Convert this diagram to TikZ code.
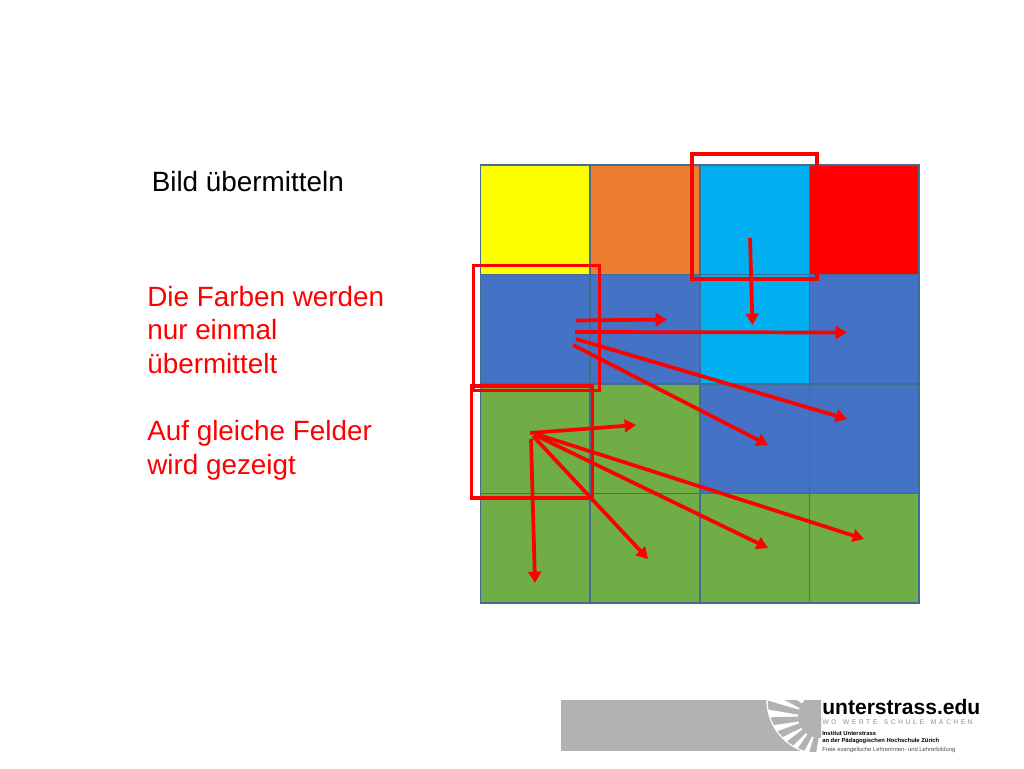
\documentclass[tikz,border=0pt]{standalone}
\usepackage{fontspec}
\setmainfont{Liberation Sans}
\usetikzlibrary{arrows.meta}
\definecolor{cellyellow}{RGB}{255,255,0}
\definecolor{cellorange}{RGB}{237,125,49}
\definecolor{cellcyan}{RGB}{0,176,240}
\definecolor{cellred}{RGB}{255,0,0}
\definecolor{cellblue}{RGB}{68,114,196}
\definecolor{cellgreen}{RGB}{112,173,71}
\definecolor{celledge}{RGB}{66,108,145}
\definecolor{logogrey}{RGB}{178,178,178}
\tikzset{
  cell/.style = {minimum size=82.125pt, inner sep=0pt, outer sep=0pt},
  framebox/.style = {draw=red, line width=2.6pt, inner sep=0pt, outer sep=0pt},
  sendarrow/.style = {draw=red, line width=2.8pt, -{Triangle[length=8.5pt, width=9.5pt]}},
  caption/.style = {anchor=base west, inner sep=0pt, font=\fontsize{20.9pt}{25pt}\selectfont},
  logotext/.style = {anchor=base west, inner sep=0pt, font=\bfseries\fontsize{4.4pt}{5pt}\selectfont},
}
\begin{document}
\begin{tikzpicture}[x=0.75pt, y=-0.75pt]
\useasboundingbox (0, 0) rectangle (1024, 768);

% grid of fields
\foreach \row/\colA/\colB/\colC/\colD in {1/cellyellow/cellorange/cellcyan/cellred, 2/cellblue/cellblue/cellcyan/cellblue, 3/cellgreen/cellgreen/cellblue/cellblue, 4/cellgreen/cellgreen/cellgreen/cellgreen} {
  \node[cell, fill=\colA] (c\row1) at (535.2, 219.7 + 109.5*\row - 109.5) {};
  \node[cell, fill=\colB] (c\row2) at (644.9, 219.7 + 109.5*\row - 109.5) {};
  \node[cell, fill=\colC] (c\row3) at (754.6, 219.7 + 109.5*\row - 109.5) {};
  \node[cell, fill=\colD] (c\row4) at (864.3, 219.7 + 109.5*\row - 109.5) {};
}
\foreach \row in {1, 2, 3, 4}
  \foreach \col in {1, 2, 3, 4}
    \draw[celledge, line width=1.1pt] (c\row\col.south west) rectangle (c\row\col.north east);

% red frames
\node[framebox, minimum width=94pt, minimum height=94pt] (frameTop) at (754.5, 216.5) {};
\node[framebox, minimum width=94.5pt, minimum height=94pt] (frameBlue) at (536.5, 328) {};
\node[framebox, minimum width=91pt, minimum height=84pt] (frameGreen) at (532, 442) {};

% arrow ends
\coordinate (topA) at (750, 238);
\coordinate (topB) at (752.5, 325);
\coordinate (blueA) at (576, 320.5);
\coordinate (blueB) at (667, 319.5);
\coordinate (blueC) at (575, 332);
\coordinate (blueD) at (847, 332.5);
\coordinate (blueE) at (576, 339);
\coordinate (blueF) at (847, 419);
\coordinate (blueG) at (573, 345);
\coordinate (blueH) at (768, 445);
\coordinate (greenA) at (530, 433);
\coordinate (greenB) at (636, 425);
\coordinate (greenC) at (531, 439);
\coordinate (greenD) at (535, 583);
\coordinate (greenE) at (533, 436);
\coordinate (greenF) at (648, 559);
\coordinate (greenG) at (535, 435);
\coordinate (greenH) at (768, 548);
\coordinate (greenI) at (536, 434);
\coordinate (greenJ) at (864, 539);

\foreach \from/\to in {topA/topB, blueA/blueB, blueC/blueD, blueE/blueF, blueG/blueH, greenA/greenB, greenC/greenD, greenE/greenF, greenG/greenH, greenI/greenJ}
  \draw[sendarrow] (\from) -- (\to);

% texts
\node[caption] (title) at (151.5, 191.8) {Bild übermitteln};
\node[caption, text=red] (lineA) at (147, 306.8) {Die Farben werden};
\node[caption, text=red] (lineB) at (147, 339.8) {nur einmal};
\node[caption, text=red] (lineC) at (147, 373.8) {übermittelt};
\node[caption, text=red] (lineD) at (147, 440.8) {Auf gleiche Felder};
\node[caption, text=red] (lineE) at (147, 474.8) {wird gezeigt};

% logo
\fill[logogrey] (561, 700) rectangle (800, 751);
\begin{scope}
\clip (561, 700) rectangle (821, 751);
\fill[white] (821, 700) circle[radius=41pt];
\clip (821, 700) circle[radius=40pt];
\foreach \ang in {100, 118, 136, 154, 172, 190, 208}
  \fill[logogrey] (820, 716) ++(\ang-6:24) -- ++(\ang:60) -- ++(\ang+90:12) -- (820, 716) ++(\ang+6:24) -- cycle;
\fill[logogrey] (820, 716) circle[radius=16.5pt];
\end{scope}
\node[logotext, font=\bfseries\fontsize{15.8pt}{18pt}\selectfont] (logoName) at (822, 714) {unterstrass.edu};
\node[logotext, text=logogrey, font=\bfseries\fontsize{5.2pt}{6pt}\selectfont\addfontfeature{LetterSpace=34}] (logoClaim) at (822, 724) {WO\hspace{4.8pt}WERTE\hspace{4.8pt}SCHULE\hspace{4.8pt}MACHEN};
\node[logotext] (logoLineA) at (822, 735) {Institut Unterstrass};
\node[logotext] (logoLineB) at (822, 742) {an der Pädagogischen Hochschule Zürich};
\node[logotext, text=black!70, font=\fontsize{4.4pt}{5pt}\selectfont] (logoLineC) at (822, 751) {Freie evangelische Lehrerinnen- und Lehrerbildung};
\end{tikzpicture}
\end{document}
